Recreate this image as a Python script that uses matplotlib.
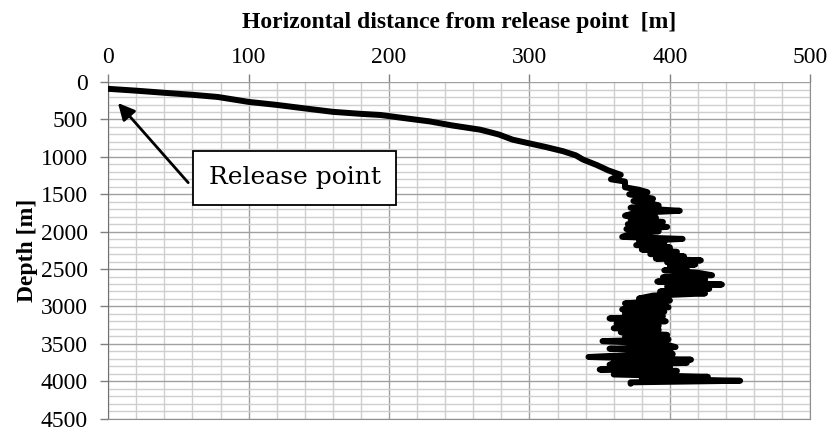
import matplotlib.pyplot as plt
from matplotlib.ticker import MultipleLocator

plt.rcParams['font.family'] = ['Liberation Serif', 'DejaVu Serif']

dist_m = [0, 20, 42, 60, 78, 100, 120, 137, 160, 180, 194, 210, 229, 245,
          265, 278, 288, 300, 312, 324, 333, 338, 348, 356, 365, 358, 368,
          368, 378, 384, 371, 380, 388, 374, 386, 392, 372, 407, 375, 368,
          390, 372, 395, 370, 398, 369, 392, 372, 366, 409, 378, 396, 376,
          400, 380, 405, 386, 410, 390, 422, 398, 418, 400, 412, 396, 420,
          430, 395, 425, 391, 437, 398, 428, 393, 425, 388, 378, 400, 368,
          395, 399, 366, 396, 368, 395, 357, 397, 362, 392, 360, 392, 365,
          398, 368, 399, 352, 395, 404, 357, 400, 402, 360, 342, 415, 360,
          412, 357, 400, 350, 405, 362, 360, 427, 380, 450, 372, 372]
depth_m = [90, 115, 146, 170, 199, 265, 305, 345, 398, 425, 440, 480, 526,
           580, 637, 700, 770, 820, 870, 925, 980, 1035, 1110, 1180, 1240,
           1300, 1330, 1407, 1440, 1473, 1500, 1530, 1560, 1590, 1620, 1650,
           1680, 1721, 1750, 1787, 1810, 1840, 1870, 1900, 1937, 1965, 1995,
           2030, 2070, 2097, 2125, 2150, 2180, 2210, 2240, 2270, 2300, 2330,
           2360, 2384, 2410, 2440, 2470, 2500, 2517, 2550, 2583, 2610, 2640,
           2667, 2707, 2735, 2765, 2800, 2826, 2855, 2893, 2920, 2959, 2985,
           3012, 3040, 3070, 3100, 3130, 3160, 3198, 3230, 3260, 3291, 3313,
           3345, 3380, 3410, 3440, 3464, 3500, 3543, 3565, 3600, 3636, 3660,
           3676, 3712, 3740, 3755, 3778, 3810, 3844, 3862, 3890, 3910, 3941,
           3965, 3994, 4015, 4034]

# release point marker: arrow tip and text box position (data units)
release_tip = (7, 280)
arrow_tail = (57, 1345)
label_pos = (133, 1281)

fig = plt.figure(figsize=(8.32, 4.32), dpi=100)
ax = fig.add_axes([0.130, 0.031, 0.844, 0.779])

ax.plot(dist_m, depth_m, color='black', lw=4.3, solid_capstyle='round',
        solid_joinstyle='round', zorder=3)

ax.set_xlim(0, 500)
ax.set_ylim(4500, 0)
ax.xaxis.tick_top()
ax.xaxis.set_label_position('top')
ax.xaxis.set_major_locator(MultipleLocator(100))
ax.xaxis.set_minor_locator(MultipleLocator(20))
ax.yaxis.set_major_locator(MultipleLocator(500))
ax.yaxis.set_minor_locator(MultipleLocator(100))

ax.grid(which='major', color='#a0a0a0', lw=1.0, zorder=0)
ax.grid(which='minor', color='#cfcfcf', lw=1.0, zorder=0)
ax.set_axisbelow(True)

ax.tick_params(which='major', length=6, width=1, color='#808080',
               labelsize=17)
ax.tick_params(axis='y', which='major', pad=8.5)
ax.tick_params(axis='x', which='major', pad=4)
ax.tick_params(which='minor', length=0)
for side in ['left', 'bottom', 'right']:
    ax.spines[side].set_color('#909090')
ax.spines['left'].set_color('#707070')
ax.spines['top'].set_visible(False)

ax.set_xlabel('Horizontal distance from release point  [m]', fontsize=17,
              fontweight='bold', labelpad=14)
ax.set_ylabel('Depth [m]', fontsize=17, fontweight='bold', labelpad=2)

# arrow first, then the boxed label on top of it
ax.annotate('', xy=release_tip, xytext=arrow_tail,
            arrowprops=dict(arrowstyle='-|>,head_length=1.0,head_width=0.5',
                            color='black', lw=2.0, shrinkA=0, shrinkB=0),
            zorder=4)
ax.text(label_pos[0], label_pos[1], 'Release point', fontsize=18,
        family='DejaVu Serif', ha='center', va='center', zorder=5,
        bbox=dict(boxstyle='square,pad=0.62', fc='white', ec='black', lw=1.3))

fig.savefig('out.png', dpi=100)
